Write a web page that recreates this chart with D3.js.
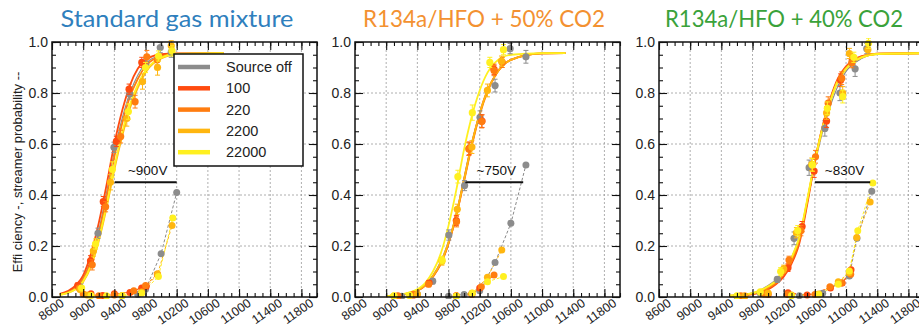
<!DOCTYPE html>
<html><head><meta charset="utf-8">
<script src="https://cdn.jsdelivr.net/npm/d3@7"></script>
<style>body{margin:0;background:#fff;} svg{display:block;}</style>
</head><body><svg id="c" width="919" height="331"></svg>
<script>
// ---------------- DATA ----------------
const seriesNames = ["Source off", "100", "220", "2200", "22000"];
const panelTitles = ["Standard gas mixture", "R134a/HFO + 50% CO2", "R134a/HFO + 40% CO2"];
const xTickValues = [8600, 9000, 9400, 9800, 10200, 10600, 11000, 11400, 11800];
const xTickLabels = ["8600", "9000", "9400", "9800", "10200", "10600", "11000", "11400", "11800"];
const yTickValues = [0, 0.2, 0.4, 0.6, 0.8, 1.0];
const yTickLabels = ["0.0", "0.2", "0.4", "0.6", "0.8", "1.0"];
const yAxisTitle = "Effi ciency -, streamer probability --";
const shiftLabels = ["~900V", "~750V", "~830V"];
const shiftStart = [9404, 10015, 10600];
const shiftEnd = [10200, 10758, 11310];
const shiftLevel = 0.45;

// Panel 1: standard gas mixture
const std_fitV = [8700, 8900, 9000, 9100, 9200, 9300, 9400, 9500, 9600, 9700, 9800, 10000, 10200, 10800];
const std_fit = [
  [0.010, 0.040, 0.075, 0.150, 0.260, 0.410, 0.570, 0.700, 0.800, 0.870, 0.915, 0.948, 0.955, 0.956],
  [0.012, 0.045, 0.085, 0.170, 0.290, 0.440, 0.600, 0.730, 0.830, 0.895, 0.930, 0.952, 0.955, 0.956],
  [0.010, 0.035, 0.070, 0.140, 0.245, 0.390, 0.550, 0.680, 0.785, 0.855, 0.905, 0.944, 0.954, 0.956],
  [0.008, 0.030, 0.060, 0.120, 0.220, 0.350, 0.500, 0.630, 0.740, 0.820, 0.880, 0.935, 0.952, 0.956],
  [0.008, 0.030, 0.062, 0.125, 0.228, 0.360, 0.510, 0.645, 0.755, 0.832, 0.888, 0.938, 0.953, 0.956]
];
const std_eff = [
  [[8960, 0.040, 0.010], [9190, 0.250, 0.020], [9395, 0.587, 0.020], [9598, 0.796, 0.020], [9804, 0.915, 0.020], [9989, 0.978, 0.020], [10130, 0.960, 0.020]],
  [[8930, 0.045, 0.010], [9094, 0.142, 0.020], [9258, 0.374, 0.020], [9426, 0.610, 0.020], [9589, 0.815, 0.020], [9752, 0.920, 0.020]],
  [[8950, 0.035, 0.010], [9116, 0.126, 0.020], [9288, 0.354, 0.020], [9481, 0.629, 0.025], [9666, 0.766, 0.025], [9817, 0.942, 0.025], [9950, 0.930, 0.020]],
  [[8960, 0.030, 0.010], [9130, 0.180, 0.020], [9350, 0.450, 0.030], [9560, 0.700, 0.030], [9761, 0.845, 0.030], [9954, 0.900, 0.030], [10130, 0.985, 0.020]],
  [[8980, 0.035, 0.010], [9159, 0.208, 0.020], [9374, 0.500, 0.030], [9580, 0.727, 0.030], [9800, 0.900, 0.020], [9967, 0.945, 0.020], [10140, 0.965, 0.020]]
];
const std_str = [
  [[9700, 0.010], [9800, 0.030], [10000, 0.170], [10200, 0.410]],
  [[9100, 0.013], [9250, 0.006], [9400, 0.013], [9600, 0.018], [9750, 0.035], [9810, 0.042]],
  [[9000, 0.012], [9200, 0.005], [9400, 0.008], [9650, 0.025], [9800, 0.045], [9950, 0.090]],
  [[9050, 0.008], [9300, 0.004], [9500, 0.006], [9750, 0.020], [9955, 0.090], [10140, 0.280]],
  [[9100, 0.006], [9300, 0.004], [9500, 0.005], [9750, 0.015], [9965, 0.080], [10150, 0.310]]
];

// Panel 2: R134a/HFO + 50% CO2
const co50_fitV = [9000, 9300, 9500, 9600, 9700, 9800, 9900, 10000, 10100, 10200, 10300, 10400, 10600, 11000, 11300];
const co50_fit = [
  [0.003, 0.016, 0.048, 0.085, 0.140, 0.220, 0.330, 0.470, 0.610, 0.720, 0.810, 0.870, 0.930, 0.955, 0.956],
  [0.003, 0.015, 0.045, 0.080, 0.130, 0.210, 0.320, 0.460, 0.600, 0.720, 0.810, 0.870, 0.930, 0.955, 0.956],
  [0.003, 0.015, 0.045, 0.080, 0.130, 0.210, 0.320, 0.455, 0.595, 0.715, 0.805, 0.868, 0.930, 0.955, 0.956],
  [0.003, 0.016, 0.047, 0.083, 0.135, 0.215, 0.325, 0.462, 0.603, 0.720, 0.810, 0.870, 0.930, 0.955, 0.956],
  [0.003, 0.018, 0.055, 0.100, 0.170, 0.280, 0.420, 0.580, 0.710, 0.810, 0.880, 0.920, 0.950, 0.956, 0.956]
];
const co50_eff = [
  [[9200, 0.003, 0.005], [9400, 0.010, 0.005], [9597, 0.062, 0.010], [9804, 0.243, 0.020], [10006, 0.437, 0.020], [10204, 0.705, 0.025], [10397, 0.829, 0.025], [10590, 0.974, 0.020], [10793, 0.942, 0.025]],
  [[9150, 0.003, 0.005], [9350, 0.008, 0.005], [9550, 0.055, 0.010], [9900, 0.300, 0.020], [10066, 0.583, 0.025], [10230, 0.690, 0.025], [10384, 0.893, 0.020]],
  [[9150, 0.005, 0.005], [9350, 0.010, 0.005], [9545, 0.050, 0.010], [9903, 0.295, 0.020], [10060, 0.580, 0.025], [10225, 0.688, 0.025], [10384, 0.888, 0.020], [10490, 0.920, 0.020]],
  [[9100, 0.004, 0.005], [9400, 0.010, 0.005], [9715, 0.140, 0.015], [9912, 0.344, 0.020], [10100, 0.588, 0.025], [10299, 0.810, 0.025], [10480, 0.925, 0.020]],
  [[9100, 0.005, 0.005], [9300, 0.006, 0.005], [9718, 0.145, 0.015], [9920, 0.472, 0.025], [10105, 0.723, 0.030], [10330, 0.920, 0.020], [10505, 0.970, 0.020]]
];
const co50_str = [
  [[9800, 0.003], [10000, 0.010], [10200, 0.025], [10397, 0.135], [10600, 0.289], [10793, 0.518]],
  [[9900, 0.005], [10100, 0.010], [10200, 0.035]],
  [[9900, 0.005], [10100, 0.015], [10221, 0.040], [10384, 0.086]],
  [[9900, 0.004], [10100, 0.012], [10299, 0.077], [10483, 0.184]],
  [[9900, 0.003], [10105, 0.016], [10300, 0.060], [10505, 0.080]]
];

// Panel 3: R134a/HFO + 40% CO2
const co40_fitV = [9500, 9800, 10000, 10100, 10200, 10300, 10400, 10500, 10600, 10700, 10800, 10900, 11000, 11200, 11400, 12000];
const co40_fit = [
  [0.005, 0.016, 0.045, 0.068, 0.100, 0.155, 0.235, 0.370, 0.520, 0.650, 0.750, 0.830, 0.885, 0.935, 0.952, 0.956],
  [0.003, 0.010, 0.030, 0.050, 0.080, 0.130, 0.210, 0.360, 0.530, 0.670, 0.780, 0.860, 0.905, 0.945, 0.954, 0.956],
  [0.004, 0.012, 0.035, 0.055, 0.090, 0.140, 0.220, 0.370, 0.535, 0.670, 0.775, 0.855, 0.900, 0.943, 0.954, 0.956],
  [0.005, 0.014, 0.040, 0.060, 0.095, 0.150, 0.230, 0.375, 0.530, 0.665, 0.770, 0.850, 0.895, 0.940, 0.953, 0.956],
  [0.005, 0.015, 0.042, 0.063, 0.100, 0.155, 0.235, 0.380, 0.535, 0.665, 0.770, 0.850, 0.895, 0.940, 0.953, 0.956]
];
const co40_eff = [
  [[9600, 0.003, 0.005], [9900, 0.015, 0.005], [10118, 0.069, 0.010], [10333, 0.230, 0.025], [10526, 0.507, 0.030], [10728, 0.661, 0.030], [10922, 0.800, 0.030], [11116, 0.895, 0.030], [11266, 0.974, 0.020]],
  [[9700, 0.004, 0.005], [10000, 0.010, 0.005], [10255, 0.115, 0.015], [10436, 0.276, 0.020], [10590, 0.494, 0.025], [10750, 0.690, 0.025], [10930, 0.850, 0.025], [11080, 0.930, 0.020]],
  [[9650, 0.005, 0.005], [9950, 0.012, 0.005], [10268, 0.145, 0.015], [10420, 0.260, 0.020], [10608, 0.550, 0.025], [10771, 0.760, 0.025], [10944, 0.858, 0.025], [11073, 0.919, 0.020]],
  [[9700, 0.004, 0.005], [10000, 0.015, 0.005], [10200, 0.110, 0.015], [10363, 0.252, 0.020], [10560, 0.520, 0.025], [10750, 0.722, 0.025], [10957, 0.800, 0.025], [11043, 0.955, 0.020], [11280, 0.970, 0.020]],
  [[9600, 0.005, 0.005], [9900, 0.020, 0.005], [10161, 0.100, 0.015], [10380, 0.260, 0.020], [10569, 0.518, 0.025], [10760, 0.740, 0.025], [10957, 0.786, 0.025], [11100, 0.940, 0.020], [11288, 0.995, 0.020]]
];
const co40_str = [
  [[10400, 0.005], [10700, 0.015], [11042, 0.082], [11140, 0.230], [11330, 0.415]],
  [[10255, 0.017], [10500, 0.008], [10800, 0.035], [10950, 0.055], [11064, 0.107]],
  [[10250, 0.010], [10600, 0.010], [10793, 0.040], [10943, 0.055], [11060, 0.089]],
  [[10300, 0.008], [10650, 0.012], [10900, 0.060], [11040, 0.095], [11137, 0.233], [11309, 0.373]],
  [[10300, 0.005], [10650, 0.010], [10900, 0.050], [11042, 0.102], [11150, 0.260], [11343, 0.447]]
];

// ---------------- STYLE / LAYOUT ----------------
const colors = ["#8c8c8c", "#ff4b0f", "#ff7d10", "#ffb610", "#fff020"];
const titleColors = ["#2f7fbd", "#f39131", "#3aa23a"];
const titleX = [177, 484, 784];
const titleW = [233, 242, 238];
const panelLeft = [52, 355, 659];
const panelW = 265, plotTop = 42, plotBottom = 297;

const panels = [
  {fitV: std_fitV, fit: std_fit, eff: std_eff, str: std_str},
  {fitV: co50_fitV, fit: co50_fit, eff: co50_eff, str: co50_str},
  {fitV: co40_fitV, fit: co40_fit, eff: co40_eff, str: co40_str}
];

const svg = d3.select("#c");
const axisFont = "'Liberation Sans', Arial, Helvetica, sans-serif";

panels.forEach((p, pi) => {
  const L = panelLeft[pi];
  const x = d3.scaleLinear().domain([8600, 12000]).range([L, L + panelW]);
  const y = d3.scaleLinear().domain([0, 1]).range([plotBottom, plotTop]);
  const g = svg.append("g");

  // title
  svg.append("text").attr("x", titleX[pi]).attr("y", 27).attr("text-anchor", "middle")
    .attr("font-family", "Lato, 'Open Sans', sans-serif").attr("font-size", 23.5)
    .attr("textLength", titleW[pi]).attr("lengthAdjust", "spacingAndGlyphs")
    .attr("fill", titleColors[pi]).text(panelTitles[pi]);

  const clipId = "clip" + pi;
  svg.append("clipPath").attr("id", clipId).append("rect")
    .attr("x", L).attr("y", plotTop - 4).attr("width", panelW).attr("height", plotBottom - plotTop + 6);

  // grid
  const grid = g.append("g");
  xTickValues.filter(v => v > 8600).forEach(v => {
    grid.append("line").attr("x1", x(v)).attr("x2", x(v)).attr("y1", plotTop).attr("y2", plotBottom)
      .attr("stroke", "#9a9a9a").attr("stroke-width", 0.8).attr("stroke-dasharray", "2,2");
  });
  yTickValues.filter(v => v > 0 && v < 1).forEach(v => {
    grid.append("line").attr("x1", L).attr("x2", L + panelW).attr("y1", y(v)).attr("y2", y(v))
      .attr("stroke", "#9a9a9a").attr("stroke-width", 0.8).attr("stroke-dasharray", "2,2");
  });

  const data = g.append("g").attr("clip-path", `url(#${clipId})`);
  const lineGen = d3.line().x(d => x(d[0])).y(d => y(d[1]));
  const fitGen = d3.line().x(d => x(d[0])).y(d => y(d[1])).curve(d3.curveMonotoneX);

  // streamer probability (dashed)
  p.str.forEach((s, si) => {
    data.append("path").datum(s).attr("d", lineGen).attr("fill", "none")
      .attr("stroke", si === 0 ? "#888" : colors[si]).attr("stroke-width", 1)
      .attr("stroke-dasharray", "3,2");
  });
  p.str.forEach((s, si) => {
    data.selectAll(null).data(s).enter().append("circle")
      .attr("cx", d => x(d[0])).attr("cy", d => y(d[1])).attr("r", 3.5)
      .attr("fill", colors[si]);
  });

  // efficiency fits
  p.fit.forEach((f, si) => {
    const pts = p.fitV.map((v, i) => [v, f[i]]);
    data.append("path").datum(pts).attr("d", fitGen).attr("fill", "none")
      .attr("stroke", colors[si]).attr("stroke-width", si === 0 ? 1.1 : 1.8);
  });

  // efficiency points with error bars
  p.eff.forEach((s, si) => {
    const eg = data.append("g").attr("stroke", colors[si]).attr("fill", colors[si]);
    s.forEach(d => {
      const cx = x(d[0]);
      eg.append("line").attr("x1", cx).attr("x2", cx).attr("y1", y(d[1] - d[2])).attr("y2", y(d[1] + d[2])).attr("stroke-width", 1);
      [d[1] - d[2], d[1] + d[2]].forEach(v => {
        eg.append("line").attr("x1", cx - 2.5).attr("x2", cx + 2.5).attr("y1", y(v)).attr("y2", y(v)).attr("stroke-width", 1);
      });
      eg.append("circle").attr("cx", cx).attr("cy", y(d[1])).attr("r", 3.6).attr("stroke", "none");
    });
  });

  // shift annotation
  g.append("line").attr("x1", x(shiftStart[pi])).attr("x2", x(shiftEnd[pi]))
    .attr("y1", y(shiftLevel)).attr("y2", y(shiftLevel)).attr("stroke", "#111").attr("stroke-width", 2);
  g.append("text").attr("x", (x(shiftStart[pi]) + x(shiftEnd[pi])) / 2 + 2).attr("y", y(shiftLevel) - 7)
    .attr("text-anchor", "middle").attr("font-family", axisFont).attr("font-size", 13.5)
    .attr("fill", "#111").text(shiftLabels[pi]);

  // frame
  g.append("rect").attr("x", L).attr("y", plotTop).attr("width", panelW).attr("height", plotBottom - plotTop)
    .attr("fill", "none").attr("stroke", "#111").attr("stroke-width", 1.5);

  // inward ticks via d3 axes
  const xMinor = d3.range(8600, 12001, 100);
  const yMinor = d3.range(0, 1.0001, 0.05);
  const addAxis = (axis, tx, ty) => {
    const a = g.append("g").attr("transform", `translate(${tx},${ty})`).call(axis);
    a.select(".domain").remove();
    a.selectAll("text").remove();
    a.selectAll("line").attr("stroke", "#111").attr("stroke-width", 1.1);
  };
  addAxis(d3.axisBottom(x).tickValues(xMinor).tickSize(-4), 0, plotBottom);
  addAxis(d3.axisBottom(x).tickValues(xTickValues).tickSize(-8), 0, plotBottom);
  addAxis(d3.axisTop(x).tickValues(xMinor).tickSize(-4), 0, plotTop);
  addAxis(d3.axisTop(x).tickValues(xTickValues).tickSize(-8), 0, plotTop);
  addAxis(d3.axisLeft(y).tickValues(yMinor).tickSize(-4), L, 0);
  addAxis(d3.axisLeft(y).tickValues(yTickValues).tickSize(-8), L, 0);
  addAxis(d3.axisRight(y).tickValues(yMinor).tickSize(-4), L + panelW, 0);
  addAxis(d3.axisRight(y).tickValues(yTickValues).tickSize(-8), L + panelW, 0);

  // y tick labels
  yTickValues.forEach((v, i) => {
    g.append("text").attr("x", L - 4).attr("y", y(v) + 5).attr("text-anchor", "end")
      .attr("font-family", axisFont).attr("font-size", 14).attr("fill", "#222").text(yTickLabels[i]);
  });
  // x tick labels (rotated)
  xTickValues.forEach((v, i) => {
    const ax = x(v) + 13, ay = 305;
    g.append("text").attr("transform", `translate(${ax},${ay}) rotate(-35)`).attr("text-anchor", "end")
      .attr("font-family", axisFont).attr("font-size", 12.5).attr("fill", "#222").text(xTickLabels[i]);
  });
});

// y-axis title
svg.append("text").attr("transform", "translate(22,172) rotate(-90)").attr("text-anchor", "middle")
  .attr("font-family", axisFont).attr("font-size", 13).attr("fill", "#222").text(yAxisTitle);

// legend (panel 1)
const lg = svg.append("g");
lg.append("rect").attr("x", 174).attr("y", 54).attr("width", 129).attr("height", 112)
  .attr("fill", "#fff").attr("stroke", "#111").attr("stroke-width", 1.5);
seriesNames.forEach((n, i) => {
  const yy = 67 + i * 21.3;
  lg.append("line").attr("x1", 178).attr("x2", 210).attr("y1", yy).attr("y2", yy)
    .attr("stroke", colors[i]).attr("stroke-width", 4.5);
  lg.append("text").attr("x", 226).attr("y", yy + 5).attr("font-family", axisFont).attr("font-size", 14.5)
    .attr("fill", "#222").text(n);
});
</script></body></html>
